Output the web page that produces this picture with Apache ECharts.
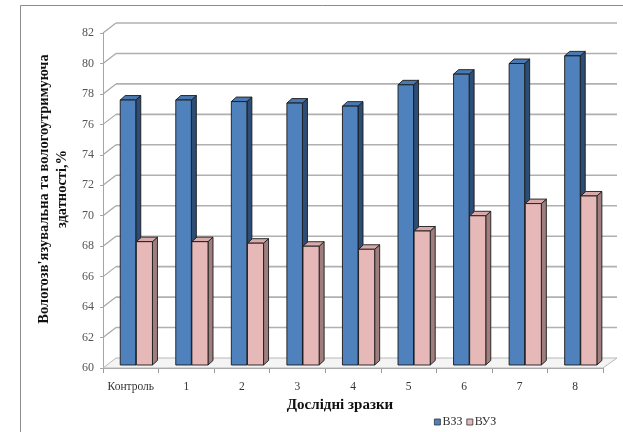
<!DOCTYPE html>
<html>
<head>
<meta charset="utf-8">
<script src="https://cdn.jsdelivr.net/npm/echarts@6/dist/echarts.min.js"></script>
<style>html,body{margin:0;padding:0;background:#fff;}#c{width:623px;height:432px;}</style>
</head>
<body>
<div id="c"></div>
<script>
const categories = ['Контроль', '1', '2', '3', '4', '5', '6', '7', '8'];
const seriesNames = ['ВЗЗ', 'ВУЗ'];
const vzz = [77.4, 77.4, 77.3, 77.2, 77.0, 78.4, 79.1, 79.8, 80.3];
const vuz = [68.1, 68.1, 68.0, 67.8, 67.6, 68.8, 69.8, 70.6, 71.1];
const yTicks = [60, 62, 64, 66, 68, 70, 72, 74, 76, 78, 80, 82];
const yTitle = ["Вологозв'язувальна та вологоутримуюча", 'здатності,%'];
const xTitle = 'Дослідні зразки';

const FONT = '"Liberation Serif", "Times New Roman", serif';
const DX = 13, DY = -10;      // back wall offset
const BD = -3;                // bar depth shift (vertical)
const TDX = 5, TDY = -4.5;    // bar top/side depth

const chart = echarts.init(document.getElementById('c'), null, {renderer: 'canvas'});

function wallRender(params, api) {
  const v = api.value(1);
  const bw = api.size([1, 0])[0];
  const pL = api.coord([0, v]);
  const pR = api.coord([categories.length - 1, v]);
  const xL = pL[0] - bw / 2, xR = pR[0] + bw / 2, y = pL[1];
  if (v === yTicks[0]) {
    return {
      type: 'polygon',
      shape: {points: [[xL, y], [xR, y], [xR + DX + 1, y + DY], [xL + DX, y + DY]]},
      style: {fill: '#f4f4f4', stroke: '#b8b8b8', lineWidth: 1}
    };
  }
  return {
    type: 'group',
    children: [
      {type: 'line', shape: {x1: xL, y1: y, x2: xL + DX, y2: y + DY}, style: {stroke: '#a6a6a6', lineWidth: 1.2}},
      {type: 'line', shape: {x1: xL + DX, y1: y + DY, x2: xR + DX + 1, y2: y + DY}, style: {stroke: '#b0b0b0', lineWidth: 1.6}}
    ]
  };
}

function makeBarRender(offFrac, wFrac, front, side, top) {
  return function (params, api) {
    const idx = api.value(0), v = api.value(1);
    const bw = api.size([1, 0])[0];
    const pt = api.coord([idx, v]);
    const pb = api.coord([idx, yTicks[0]]);
    const x0 = pt[0] + offFrac * bw, x1 = x0 + wFrac * bw;
    const yT = pt[1] + BD, yB = pb[1] + BD;
    const st = {stroke: '#1a1a1a', lineWidth: 0.9};
    return {
      type: 'group',
      children: [
        {type: 'polygon', shape: {points: [[x1, yT], [x1 + TDX, yT + TDY], [x1 + TDX, yB + TDY], [x1, yB]]},
          style: Object.assign({fill: side}, st)},
        {type: 'polygon', shape: {points: [[x0, yT], [x0 + TDX, yT + TDY], [x1 + TDX, yT + TDY], [x1, yT]]},
          style: Object.assign({fill: top}, st)},
        {type: 'rect', shape: {x: x0, y: yT, width: x1 - x0, height: yB - yT},
          style: Object.assign({fill: front}, st)}
      ]
    };
  };
}

const option = {
  animation: false,
  backgroundColor: '#ffffff',
  grid: {left: 103, right: 20, top: 33, bottom: 64},
  xAxis: {
    type: 'category',
    data: categories,
    axisLine: {show: true, lineStyle: {color: '#9a9a9a', width: 1}},
    axisTick: {show: true, length: 5, lineStyle: {color: '#9a9a9a'}},
    axisLabel: {fontFamily: FONT, fontSize: 11.5, color: '#333', margin: 13, interval: 0},
    splitLine: {show: false}
  },
  yAxis: {
    type: 'value',
    min: 60, max: 82, interval: 2,
    axisLine: {show: true, lineStyle: {color: '#a6a6a6', width: 1}},
    axisTick: {show: true, length: 3, lineStyle: {color: '#a6a6a6'}},
    axisLabel: {fontFamily: FONT, fontSize: 12, color: '#555', margin: 9},
    splitLine: {show: false}
  },
  legend: {
    data: seriesNames,
    left: 429, top: 411,
    icon: 'rect', itemWidth: 6, itemHeight: 6, itemGap: 4,
    itemStyle: {borderColor: '#333', borderWidth: 0.8},
    textStyle: {fontFamily: FONT, fontSize: 12, color: '#333', padding: [0, 0, 0, -3]}
  },
  graphic: [
    {type: 'rect', shape: {x: 20.5, y: 5.5, width: 700, height: 500}, style: {fill: 'none', stroke: '#8c8c8c', lineWidth: 1}, silent: true},
    {type: 'text', x: 44, y: 189, rotation: Math.PI / 2,
      style: {text: yTitle[0], fontFamily: FONT, fontSize: 14.5, fontWeight: 'bold', fill: '#111', align: 'center', verticalAlign: 'middle'}},
    {type: 'text', x: 62, y: 189, rotation: Math.PI / 2,
      style: {text: yTitle[1], fontFamily: FONT, fontSize: 14.5, fontWeight: 'bold', fill: '#111', align: 'center', verticalAlign: 'middle'}},
    {type: 'text', x: 340, y: 405,
      style: {text: xTitle, fontFamily: FONT, fontSize: 15, fontWeight: 'bold', fill: '#111', align: 'center', verticalAlign: 'middle'}}
  ],
  series: [
    {
      type: 'custom', name: 'walls', silent: true, z: 1,
      renderItem: wallRender,
      data: yTicks.map(v => [0, v])
    },
    {
      type: 'custom', name: seriesNames[0], z: 3,
      itemStyle: {color: '#4F81BD'},
      renderItem: makeBarRender(-0.19, 0.28, '#4F81BD', '#2c4d75', '#4a78b0'),
      data: vzz.map((v, i) => [i, v])
    },
    {
      type: 'custom', name: seriesNames[1], z: 4,
      itemStyle: {color: '#E6B9B8'},
      renderItem: makeBarRender(0.1, 0.29, '#E6B9B8', '#9e7f7e', '#d9aaa9'),
      data: vuz.map((v, i) => [i, v])
    }
  ]
};
chart.setOption(option);
</script>
</body>
</html>
